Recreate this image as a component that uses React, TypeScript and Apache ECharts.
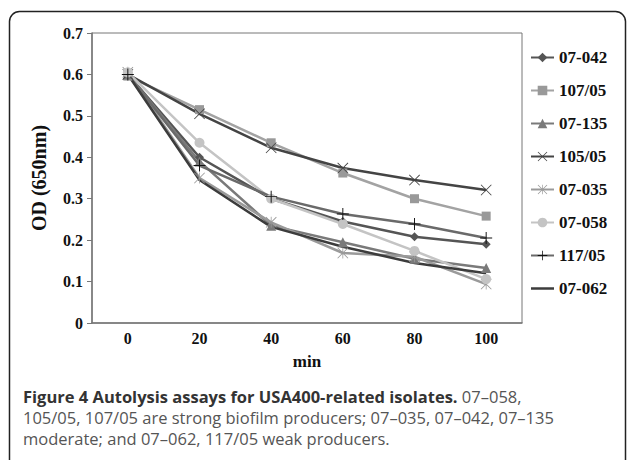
import React, { useEffect, useRef } from "react";
import * as echarts from "echarts";

const categories = ["0", "20", "40", "60", "80", "100"];
const seriesNames = ["07-042", "107/05", "07-135", "105/05", "07-035", "07-058", "117/05", "07-062"];
const s07_042 = [0.6, 0.4, 0.3, 0.245, 0.208, 0.19];
const s107_05 = [0.596, 0.515, 0.435, 0.362, 0.3, 0.258];
const s07_135 = [0.6, 0.39, 0.235, 0.195, 0.155, 0.133];
const s105_05 = [0.6, 0.505, 0.423, 0.374, 0.345, 0.321];
const s07_035 = [0.605, 0.35, 0.243, 0.169, 0.16, 0.094];
const s07_058 = [0.605, 0.435, 0.3, 0.239, 0.174, 0.106];
const s117_05 = [0.6, 0.38, 0.305, 0.263, 0.239, 0.205];
const s07_062 = [0.6, 0.345, 0.232, 0.184, 0.145, 0.12];
const yTicks = [0, 0.1, 0.2, 0.3, 0.4, 0.5, 0.6, 0.7];
const captionBold = "Figure 4 Autolysis assays for USA400-related isolates.";
const captionLines = [
  " 07–058,",
  "105/05, 107/05 are strong biofilm producers; 07–035, 07–042, 07–135",
  "moderate; and 07–062, 117/05 weak producers.",
];

const PLUS = "path://M9.2,0h1.6v9.2h9.2v1.6h-9.2v9.2h-1.6v-9.2h-9.2v-1.6h9.2z";
const XMARK = "path://M0,1.1L1.1,0L20,18.9L18.9,20Z M18.9,0L20,1.1L1.1,20L0,18.9Z";
const STAR = "path://M0,1.1L1.1,0L20,18.9L18.9,20Z M18.9,0L20,1.1L1.1,20L0,18.9Z M9.3,0h1.4v20h-1.4z";
const LINE_ICON = "path://M0,0h24v2.6h-24z";

export default function App() {
  const ref = useRef<HTMLDivElement>(null);
  useEffect(() => {
    document.body.style.margin = "0";
    const chart = echarts.init(ref.current!, null, { renderer: "svg" });
    const serif = "'Liberation Serif', 'Times New Roman', serif";
    const sans = "'Open Sans', sans-serif";
    const mk = (
      name: string,
      data: number[],
      color: string,
      symbol: string,
      symbolSize: number,
      markerColor?: string
    ) => ({
      name,
      type: "line",
      data,
      symbol,
      symbolSize,
      showSymbol: symbol !== "none",
      lineStyle: { color, width: 2.5 },
      itemStyle: { color: markerColor || color },
      z: 2,
    });
    const legendData = seriesNames.map((n) =>
      n === "07-062" ? { name: n, icon: LINE_ICON, itemStyle: { color: "#3c3c3c" } } : { name: n }
    );
    const option: any = {
      animation: false,
      backgroundColor: "#fff",
      grid: {
        left: 92,
        top: 33,
        right: 105,
        bottom: 137,
        show: true,
        borderColor: "#777",
        borderWidth: 1,
      },
      legend: {
        orient: "vertical",
        left: 525,
        top: 44,
        itemWidth: 23,
        itemHeight: 12,
        itemGap: 16,
        symbolKeepAspect: true,
        data: legendData,
        textStyle: { fontFamily: serif, fontWeight: "bold", fontSize: 17, color: "#111" },
      },
      xAxis: {
        type: "category",
        data: categories,
        boundaryGap: true,
        name: "min",
        nameLocation: "middle",
        nameGap: 30,
        nameTextStyle: { fontFamily: serif, fontWeight: "bold", fontSize: 17, color: "#111" },
        axisLine: { lineStyle: { color: "#777", width: 1.5 } },
        axisTick: { alignWithLabel: true, inside: true, length: 4, lineStyle: { color: "#777" } },
        axisLabel: { fontFamily: serif, fontWeight: "bold", fontSize: 16, color: "#111", margin: 7 },
        splitLine: { show: false },
      },
      yAxis: {
        type: "value",
        min: 0,
        max: 0.7,
        interval: 0.1,
        name: "OD (650nm)",
        nameLocation: "middle",
        nameGap: 43,
        nameRotate: 90,
        nameTextStyle: { fontFamily: serif, fontWeight: "bold", fontSize: 20, color: "#111" },
        axisLine: { show: true, lineStyle: { color: "#777", width: 1.5 } },
        axisTick: { show: true, length: 5, lineStyle: { color: "#777" } },
        axisLabel: {
          fontFamily: serif,
          fontWeight: "bold",
          fontSize: 16,
          color: "#111",
          margin: 9,
          formatter: (v: number) => {
            const t = yTicks.find((x) => Math.abs(x - v) < 1e-6);
            const val = t === undefined ? v : t;
            return val === 0 ? "0" : val.toFixed(1);
          },
        },
        splitLine: { show: false },
      },
      series: [
        mk("07-042", s07_042, "#555555", "diamond", 9),
        mk("107/05", s107_05, "#a3a3a3", "rect", 9, "#999999"),
        mk("07-135", s07_135, "#7a7a7a", "triangle", 10),
        mk("105/05", s105_05, "#444444", XMARK, 11),
        mk("07-035", s07_035, "#9a9a9a", STAR, 11),
        mk("07-058", s07_058, "#c4c4c4", "circle", 10),
        mk("117/05", s117_05, "#6a6a6a", PLUS, 12, "#111111"),
        mk("07-062", s07_062, "#3c3c3c", "none", 0),
      ],
      graphic: [
        {
          type: "rect",
          shape: { x: 9.5, y: 11.5, width: 616, height: 520, r: 10 },
          style: { fill: "none", stroke: "#222", lineWidth: 1.5 },
          silent: true,
        },
        {
          type: "text",
          x: 23,
          y: 385.5,
          style: {
            text:
              "{b|" + captionBold + "}{r|" + captionLines[0] + "}\n{r|" + captionLines[1] + "}\n{r|" + captionLines[2] + "}",
            verticalAlign: "top",
            rich: {
              b: { fontFamily: sans, fontWeight: "bold", fontSize: 16.5, lineHeight: 21, fill: "#333" },
              r: { fontFamily: sans, fontSize: 16.5, lineHeight: 21, fill: "#555" },
            },
          },
        },
      ],
    };
    chart.setOption(option);
    return () => chart.dispose();
  }, []);
  return (
    <div
      ref={ref}
      style={{ position: "absolute", left: 0, top: 0, width: 627, height: 460 }}
    />
  );
}
